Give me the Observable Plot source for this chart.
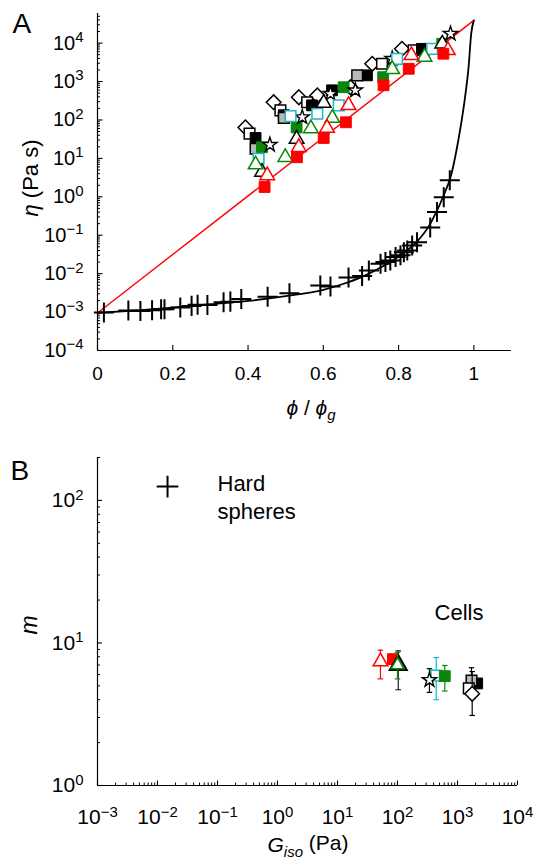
<!DOCTYPE html>
<html>
<head>
<meta charset="utf-8">
<script src="https://cdn.jsdelivr.net/npm/d3@7"></script>
<script src="https://cdn.jsdelivr.net/npm/@observablehq/plot@0.6"></script>
<style>
  html, body { margin: 0; padding: 0; background: #fff; }
  #fig { width: 535px; }
  #fig svg { display: block; }
</style>
</head>
<body>
<div id="fig"></div>
<script>
// ================= Panel A data =================
// hard-sphere viscosity (crosses)
const hsPhi = [0.017, 0.082, 0.114, 0.145, 0.169, 0.178, 0.22, 0.25, 0.266, 0.292, 0.335, 0.353, 0.382, 0.452, 0.51, 0.592, 0.619, 0.667, 0.703, 0.721, 0.752, 0.765, 0.778, 0.792, 0.805, 0.814, 0.823, 0.836, 0.849, 0.884, 0.902, 0.92, 0.936];
const hsEta = [0.98e-3, 1.1e-3, 1.07e-3, 1.12e-3, 1.18e-3, 1.18e-3, 1.32e-3, 1.45e-3, 1.55e-3, 1.52e-3, 1.8e-3, 1.87e-3, 2.2e-3, 2.5e-3, 3.1e-3, 4.9e-3, 4.6e-3, 7.9e-3, 8.7e-3, 0.012, 0.018, 0.020, 0.022, 0.027, 0.030, 0.036, 0.040, 0.054, 0.066, 0.16, 0.40, 0.98, 2.7];
// hard-sphere fit curve (black line)
const hsFitPhi = [0, 0.1, 0.2, 0.3, 0.4, 0.5, 0.6, 0.65, 0.7, 0.75, 0.8, 0.85, 0.88, 0.9, 0.92, 0.94, 0.96, 0.975, 0.986, 0.993, 1.0];
const hsFitEta = [9.5e-4, 1.1e-3, 1.3e-3, 1.6e-3, 1.95e-3, 2.6e-3, 3.8e-3, 5.3e-3, 8e-3, 0.014, 0.028, 0.07, 0.17, 0.4, 1.1, 3.8, 35, 300, 2400, 1.8e4, 3.9e4];
// cell fit (red line)
const cellFitPhi = [0, 1];
const cellFitEta = [9.5e-4, 3.9e4];

// cell series
const blackSquarePhi = [0.420, 0.495, 0.570, 0.623, 0.716, 0.862];
const blackSquareEta = [34, 133, 240, 590, 1450, 7100];
const graySquarePhi = [0.420, 0.495, 0.690];
const graySquareEta = [17.8, 113, 1450];
const whiteSquarePhi = [0.404, 0.486, 0.557, 0.756, 0.840];
const whiteSquareEta = [44, 178, 290, 2900, 6500];
const diamondPhi = [0.393, 0.468, 0.535, 0.584, 0.672, 0.730, 0.809];
const diamondEta = [64, 290, 390, 435, 710, 2900, 7100];
const greenSquarePhi = [0.437, 0.529, 0.654, 0.759, 0.916];
const greenSquareEta = [19.5, 64, 710, 1300, 9600];
const cyanSquarePhi = [0.428, 0.513, 0.584, 0.641, 0.796, 0.889];
const cyanSquareEta = [9.8, 126, 145, 240, 3900, 7100];
const starPhi = [0.458, 0.544, 0.619, 0.685, 0.783, 0.938];
const starEta = [22.6, 118, 480, 590, 3900, 17600];
const blackTriPhi = [0.437, 0.529, 0.601, 0.916];
const blackTriEta = [4.4, 32, 275, 9600];
const greenTriPhi = [0.420, 0.499, 0.567, 0.624, 0.783, 0.869];
const greenTriEta = [6.9, 10.7, 60, 112, 2080, 4350];
const redTriPhi = [0.451, 0.535, 0.610, 0.667, 0.834, 0.931];
const redTriEta = [3.6, 19.5, 62, 240, 4800, 6500];
const redSquarePhi = [0.444, 0.530, 0.601, 0.660, 0.760, 0.827, 0.919];
const redSquareEta = [1.8, 10.7, 34, 87, 800, 2150, 5300];

// axis ticks, panel A
const xTicksA = [0, 0.2, 0.4, 0.6, 0.8, 1];
const xTickLabelsA = ["0", "0.2", "0.4", "0.6", "0.8", "1"];
const yMajorA = [1e-4, 1e-3, 1e-2, 1e-1, 1, 10, 100, 1e3, 1e4];
const yExpA = ["\u22124", "\u22123", "\u22122", "\u22121", "0", "1", "2", "3", "4"];
const minorMult = [2, 3, 4, 5, 6, 7, 8, 9];

// ================= Panel B data =================
const bKeys = ["blackSquare", "graySquare", "whiteSquare", "diamond", "greenSquare", "cyanSquare", "star", "blackTri", "greenTri", "redTri", "redSquare"];
const bG  = [2130, 1711, 1543, 1757, 614, 442, 341, 103, 100, 52, 84];
const bM  = [5.2, 5.45, 4.8, 4.4, 5.85, 5.9, 5.5, 7.0, 7.0, 7.4, 7.7];
const bLo = [4.9, 4.6, 4.4, 3.1, 4.6, 4.0, 4.5, 4.7, 5.6, 5.6, 7.3];
const bHi = [5.5, 6.7, 5.2, 6.3, 6.95, 7.9, 6.6, 8.8, 8.6, 8.9, 8.1];
const hsG = [0.0147];
const hsM = [125];

const xMajorB = [1e-3, 1e-2, 1e-1, 1, 10, 100, 1e3, 1e4];
const xExpB = ["\u22123", "\u22122", "\u22121", "0", "1", "2", "3", "4"];
const yMajorB = [1, 10, 100];
const yExpB = ["0", "1", "2"];

// ================= styles =================
const RED = "#ff0000", GREEN = "#0a870a", CYAN = "#1bb6c8", GRAY = "#b8b8b8";
const styles = {
  blackSquare: {symbol: "square", fill: "black", stroke: "black", r: 6.1, strokeWidth: 1},
  graySquare:  {symbol: "square", fill: GRAY, stroke: "black", r: 6.0, strokeWidth: 1.5},
  whiteSquare: {symbol: "square", fill: "white", stroke: "black", r: 6.0, strokeWidth: 1.5},
  diamond:     {symbol: "diamond2", fill: "white", stroke: "black", r: 6.6, strokeWidth: 1.5},
  greenSquare: {symbol: "square", fill: GREEN, stroke: GREEN, r: 6.1, strokeWidth: 1},
  cyanSquare:  {symbol: "square", fill: "white", stroke: CYAN, r: 6.0, strokeWidth: 1.5},
  star:        {symbol: "star", fill: "white", stroke: "black", r: 4.5, strokeWidth: 1.4},
  blackTri:    {symbol: "triangle", fill: "white", stroke: "black", r: 5.4, strokeWidth: 1.5},
  greenTri:    {symbol: "triangle", fill: "white", stroke: GREEN, r: 5.4, strokeWidth: 1.5},
  redTri:      {symbol: "triangle", fill: "white", stroke: RED, r: 5.4, strokeWidth: 1.5},
  redSquare:   {symbol: "square", fill: RED, stroke: RED, r: 6.1, strokeWidth: 1}
};
const barColor = {blackSquare: "black", graySquare: "black", whiteSquare: "black", diamond: "black", greenSquare: GREEN, cyanSquare: CYAN, star: "black", blackTri: "#222", greenTri: GREEN, redTri: RED, redSquare: RED};
const font = "'Liberation Sans', Arial, Helvetica, sans-serif";

// ================= build tables =================
const zip = (xs, ys, kx, ky) => xs.map((x, i) => ({[kx]: x, [ky]: ys[i]}));
const hsRows = zip(hsPhi, hsEta, "phi", "eta");
const hsFitRows = zip(hsFitPhi, hsFitEta, "phi", "eta");
const cellFitRows = zip(cellFitPhi, cellFitEta, "phi", "eta");
const seriesA = {
  blackSquare: [blackSquarePhi, blackSquareEta],
  graySquare: [graySquarePhi, graySquareEta],
  whiteSquare: [whiteSquarePhi, whiteSquareEta],
  diamond: [diamondPhi, diamondEta],
  greenSquare: [greenSquarePhi, greenSquareEta],
  cyanSquare: [cyanSquarePhi, cyanSquareEta],
  star: [starPhi, starEta],
  blackTri: [blackTriPhi, blackTriEta],
  greenTri: [greenTriPhi, greenTriEta],
  redTri: [redTriPhi, redTriEta],
  redSquare: [redSquarePhi, redSquareEta]
};
const orderA = ["diamond", "whiteSquare", "blackSquare", "graySquare", "greenSquare", "star", "cyanSquare", "blackTri", "greenTri", "redTri", "redSquare"];
const orderB = ["redSquare", "redTri", "blackSquare", "graySquare", "whiteSquare", "diamond", "cyanSquare", "greenSquare", "star", "blackTri", "greenTri"];
const bRows = bKeys.map((k, i) => ({key: k, g: bG[i], m: bM[i], lo: bLo[i], hi: bHi[i]}));
const hsBRows = zip(hsG, hsM, "g", "m");

const yMinorA = yMajorA.flatMap(d => minorMult.map(m => d * m)).filter(v => v < 5.9e4);
const xMinorB = xMajorB.slice(0, -1).flatMap(d => minorMult.map(m => d * m));
const yMinorB = yMajorB.slice(0, -1).flatMap(d => minorMult.map(m => d * m)).concat([200]);

const capSymbol = {draw(ctx, size) { const w = Math.sqrt(size) / 2; ctx.moveTo(-w, 0); ctx.lineTo(w, 0); }};

// ================= Panel A =================
const plotA = Plot.plot({
  width: 535, height: 430,
  marginLeft: 97, marginRight: 24, marginTop: 13, marginBottom: 80,
  style: {fontFamily: font, fontSize: "16px", color: "black", background: "white"},
  x: {domain: [0, 1.1]},
  y: {type: "log", domain: [1e-4, 5.9e4]},
  marks: [
    Plot.axisX({ticks: xTicksA, tickSize: -5, fill: "none", label: null, strokeWidth: 1.1}),
    Plot.axisX({ticks: xTicksA, tickSize: 0, tickPadding: 16, fontSize: 19, tickFormat: d => xTickLabelsA[xTicksA.indexOf(d)], label: null}),
    Plot.axisY({ticks: yMinorA, tickSize: -3, fill: "none", label: null, strokeWidth: 1}),
    Plot.axisY({ticks: yMajorA, tickSize: -5.5, fill: "none", label: null, strokeWidth: 1.1}),
    Plot.axisY({ticks: yMajorA, tickSize: 0, tickPadding: 14, fontSize: 20, tickFormat: d => "10^" + yExpA[yMajorA.indexOf(d)], label: null}),
    Plot.ruleX([0], {stroke: "black", strokeWidth: 1.2}),
    Plot.ruleY([1e-4], {stroke: "black", strokeWidth: 1.2}),
    Plot.line(cellFitRows, {x: "phi", y: "eta", stroke: RED, strokeWidth: 1.4}),
    Plot.line(hsFitRows, {x: "phi", y: "eta", stroke: "black", strokeWidth: 1.8, curve: "monotone-x"}),
    Plot.dot(hsRows, {x: "phi", y: "eta", symbol: "plus", r: 6.5, stroke: "black", strokeWidth: 2}),
    ...orderA.map(k => {
      const [p, e] = seriesA[k];
      return Plot.dot(zip(p, e, "phi", "eta"), {x: "phi", y: "eta", ...styles[k]});
    }),
    Plot.text(["A"], {frameAnchor: "top-left", dx: -85, dy: 0, lineAnchor: "top", textAnchor: "start", fontSize: 28, fill: "black"})
  ]
});

// ================= Panel B =================
const plotB = Plot.plot({
  width: 535, height: 431,
  marginLeft: 97, marginRight: 18, marginTop: 27, marginBottom: 76,
  style: {fontFamily: font, fontSize: "16px", color: "black", background: "white"},
  x: {type: "log", domain: [1e-3, 1e4]},
  y: {type: "log", domain: [1, 200]},
  marks: [
    Plot.axisX({ticks: xMinorB, tickSize: -2.5, fill: "none", label: null, strokeWidth: 1}),
    Plot.axisX({ticks: xMajorB, tickSize: -4.5, fill: "none", label: null, strokeWidth: 1.1}),
    Plot.axisX({ticks: xMajorB, tickSize: 0, tickPadding: 24, fontSize: 21, tickFormat: d => "10^" + xExpB[xMajorB.indexOf(d)], label: null}),
    Plot.axisY({ticks: yMinorB, tickSize: -3, fill: "none", label: null, strokeWidth: 1}),
    Plot.axisY({ticks: yMajorB, tickSize: -5, fill: "none", label: null, strokeWidth: 1.1}),
    Plot.axisY({ticks: yMajorB, tickSize: 0, tickPadding: 14, fontSize: 21, tickFormat: d => "10^" + yExpB[yMajorB.indexOf(d)], label: null}),
    Plot.ruleX([1e-3], {stroke: "black", strokeWidth: 1.2}),
    Plot.ruleY([1], {stroke: "black", strokeWidth: 1.2}),
    Plot.dot(hsBRows, {x: "g", y: "m", symbol: "plus", r: 7, stroke: "black", strokeWidth: 2}),
    ...orderB.flatMap(k => {
      const rows = bRows.filter(d => d.key === k);
      const c = barColor[k];
      return [
        Plot.ruleX(rows, {x: "g", y1: "lo", y2: "hi", stroke: c, strokeWidth: 1.2}),
        Plot.dot(rows, {x: "g", y: "lo", symbol: capSymbol, r: 3.1, fill: "none", stroke: c, strokeWidth: 1.2}),
        Plot.dot(rows, {x: "g", y: "hi", symbol: capSymbol, r: 3.1, fill: "none", stroke: c, strokeWidth: 1.2}),
        Plot.dot(rows, {x: "g", y: "m", ...styles[k], ...(k === "blackTri" ? {r: 6.2, strokeWidth: 2.2} : {}), ...(k === "greenTri" ? {r: 4.8} : {})})
      ];
    }),
    Plot.text(["Hard\nspheres"], {x: 0.1, y: 160, lineAnchor: "top", textAnchor: "start", fontSize: 22, lineHeight: 1.27, fill: "black"}),
    Plot.text(["Cells"], {x: 414, y: 18.6, lineAnchor: "top", textAnchor: "start", fontSize: 22, fill: "black"}),
    Plot.text(["B"], {frameAnchor: "top-left", dx: -87, dy: 3, lineAnchor: "top", textAnchor: "start", fontSize: 28, fill: "black"})
  ]
});

// ---- superscripted tick labels "10^n" ----
function superscripts(svg, supSize) {
  d3.select(svg).selectAll("text").each(function() {
    const m = /^10\^(.+)$/.exec(this.textContent);
    if (!m) return;
    const t = d3.select(this);
    t.text("");
    t.append("tspan").text("10");
    t.append("tspan").attr("dy", "-0.5em").attr("font-size", supSize).text(m[1]);
  });
}
superscripts(plotA, 15);
superscripts(plotB, 15);

// ---- axis titles ----
function label(svg, {x, y, rotate = 0, size, parts}) {
  const t = d3.select(svg).append("text")
    .attr("transform", `translate(${x},${y}) rotate(${rotate})`)
    .attr("text-anchor", "middle").attr("font-size", size)
    .attr("font-family", font).attr("fill", "black");
  for (const p of parts) {
    const s = t.append("tspan").text(p.text);
    if (p.italic) s.attr("font-style", "italic");
    if (p.dy) s.attr("dy", p.dy);
    if (p.size) s.attr("font-size", p.size);
  }
}
label(plotA, {x: 38, y: 178, rotate: -90, size: 22, parts: [{text: "\u03B7", italic: true}, {text: " (Pa s)"}]});
label(plotA, {x: 311, y: 415, size: 21, parts: [{text: "\u03D5", italic: true}, {text: " / "}, {text: "\u03D5", italic: true}, {text: "g", italic: true, dy: "0.35em", size: 15}]});
label(plotB, {x: 37, y: 195, rotate: -90, size: 23, parts: [{text: "m", italic: true}]});
label(plotB, {x: 308, y: 422, size: 21, parts: [{text: "G", italic: true}, {text: "iso", italic: true, dy: "0.3em", size: 15}, {text: " (Pa)", dy: "-0.3em"}]});

document.getElementById("fig").append(plotA, plotB);
</script>
</body>
</html>
